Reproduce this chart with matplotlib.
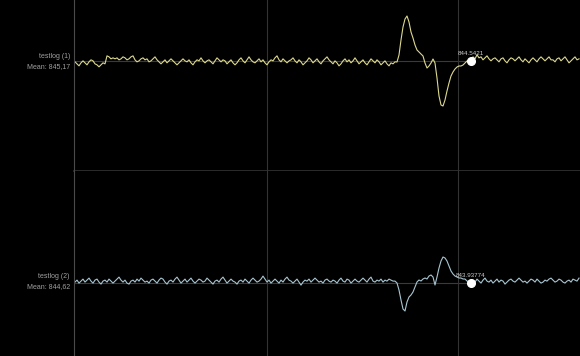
import numpy as np
import matplotlib.pyplot as plt

# readings, one every 2 px of the original trace
log1 = [844.4, 844.0, 843.6, 844.2, 844.6, 844.2, 843.8, 844.4, 844.8, 844.6,
        844.0, 843.8, 843.4, 843.8, 844.2, 844.0, 845.6, 845.4, 845.0, 845.2,
        845.0, 845.2, 844.8, 845.0, 845.4, 845.2, 844.8, 845.0, 845.4, 845.6,
        844.8, 844.4, 844.6, 845.0, 845.2, 844.8, 845.0, 844.4, 844.6, 845.0,
        845.4, 844.8, 844.4, 844.0, 844.4, 844.8, 844.2, 844.6, 845.0, 844.6,
        844.2, 843.8, 844.2, 844.6, 845.0, 844.6, 844.4, 844.8, 844.2, 843.8,
        844.4, 844.8, 844.6, 845.2, 844.6, 844.2, 844.6, 844.8, 844.4, 844.0,
        844.6, 845.2, 844.8, 844.4, 844.8, 844.6, 844.0, 844.4, 844.8, 844.2,
        843.8, 844.2, 844.8, 845.2, 844.6, 844.2, 844.8, 845.4, 844.8, 844.4,
        844.2, 844.6, 845.0, 844.4, 844.8, 844.2, 843.8, 844.4, 844.8, 844.6,
        845.2, 845.6, 844.8, 844.4, 845.0, 844.6, 844.2, 844.6, 844.8, 845.2,
        844.6, 844.2, 844.8, 844.4, 843.8, 844.2, 844.6, 845.2, 844.8, 844.2,
        844.6, 845.0, 844.4, 844.0, 844.6, 845.0, 845.4, 844.8, 844.4, 844.0,
        844.6, 844.2, 843.6, 844.0, 844.6, 845.0, 844.4, 844.8, 844.2, 844.6,
        845.2, 844.6, 844.0, 844.4, 844.8, 844.2, 843.8, 844.4, 845.0, 844.6,
        844.2, 844.8, 844.4, 843.8, 844.2, 844.6, 844.0, 843.6, 844.2, 844.0,
        844.4,
        # event
        844.37, 845.77, 848.77, 851.37, 852.97, 853.57, 852.37, 850.37, 849.17, 847.77,
        846.77, 846.37, 845.97, 845.57, 844.17, 843.17, 843.57, 844.17, 844.97, 844.17,
        841.17, 837.57, 835.77, 835.57, 836.77, 838.57, 840.17, 841.57, 842.37, 842.97,
        843.37, 843.57, 843.57, 843.77, 844.17, 844.57, 844.77, 844.5421,
        # after
        845.4, 845.0, 845.8, 845.2, 845.4, 844.8, 845.2, 845.6, 845.0, 844.6,
        845.0, 845.2, 844.8, 844.4, 845.0, 845.2, 844.6, 844.2, 844.8, 845.2,
        845.0, 844.6, 845.0, 845.4, 844.8, 844.4, 845.0, 844.6, 844.2, 844.8,
        845.2, 844.8, 844.4, 845.0, 845.4, 845.0, 844.6, 845.0, 845.4, 844.8,
        844.8, 844.4, 845.0, 845.2, 844.6, 845.0, 845.4, 844.8, 844.2, 844.6,
        845.0, 845.4, 844.8, 845.0]

log2 = [844.2, 844.6, 844.0, 844.4, 844.8, 844.2, 844.6, 845.0, 844.4, 844.0,
        844.6, 844.8, 844.2, 843.8, 844.4, 844.6, 844.2, 844.8, 844.4, 844.0,
        844.4, 844.8, 845.2, 844.6, 844.2, 844.6, 844.0, 843.8, 844.4, 844.6,
        844.2, 844.8, 844.4, 845.0, 844.6, 844.2, 844.4, 844.0, 844.6, 844.8,
        844.4, 844.0, 844.6, 845.0, 844.8, 844.2, 843.8, 844.4, 844.6, 844.2,
        844.8, 845.2, 844.6, 844.0, 844.4, 844.8, 844.2, 844.6, 845.0, 844.4,
        844.0, 844.4, 844.8, 844.6, 844.2, 844.4, 845.0, 844.6, 844.2, 843.8,
        844.4, 844.6, 844.2, 844.8, 845.2, 844.6, 844.0, 844.4, 844.8, 844.4,
        844.2, 843.8, 844.4, 844.6, 844.2, 844.8, 844.4, 844.0, 844.6, 845.0,
        844.6, 844.2, 844.4, 844.8, 845.4, 844.8, 844.2, 844.6, 844.0, 844.4,
        844.8, 844.4, 844.0, 844.6, 844.2, 844.8, 845.2, 844.6, 844.4, 844.0,
        844.4, 844.8, 844.2, 843.6, 844.2, 844.6, 844.4, 844.8, 844.2, 844.6,
        845.0, 844.6, 844.2, 844.4, 844.0, 844.6, 844.8, 844.4, 844.2, 844.6,
        844.4, 844.0, 844.6, 845.0, 844.4, 844.2, 844.8, 844.6, 844.0, 844.4,
        844.8, 844.4, 844.2, 844.6, 845.0, 844.6, 844.2, 844.8, 845.2, 844.4,
        844.2, 844.6, 844.4, 844.8, 844.2, 844.6, 844.4, 844.8, 844.6, 844.4,
        844.4,
        # event
        844.02, 842.62, 840.62, 838.82, 838.42, 840.22, 841.22, 841.62, 842.22, 843.22,
        844.22, 844.62, 844.42, 844.82, 845.02, 844.82, 845.42, 845.62, 845.22, 843.62,
        845.22, 847.02, 848.42, 849.22, 849.02, 848.42, 847.42, 846.42, 845.82, 845.42,
        845.22, 845.02, 845.02, 844.82, 844.82, 844.42, 844.22, 843.93774,
        # after
        844.6, 844.2, 844.8, 844.4, 844.0, 844.6, 845.0, 844.4, 844.2, 844.6,
        844.0, 844.4, 844.8, 844.2, 844.6, 844.4, 843.8, 844.2, 844.6, 844.8,
        844.4, 844.2, 844.6, 845.0, 844.6, 844.2, 844.4, 844.0, 844.4, 844.8,
        844.6, 844.2, 844.8, 844.4, 844.0, 844.2, 844.6, 844.4, 844.8, 845.0,
        844.6, 844.2, 844.4, 844.8, 844.6, 844.2, 844.0, 844.4, 844.6, 844.2,
        844.8, 844.6, 844.4, 845.0]

names = ["testlog (1)", "testlog (2)"]
means = ["845,17", "844,62"]
cursor = 198  # sample under the cursor
grid_x = [96, 191.5]

plt.rcParams['font.family'] = ['Liberation Sans', 'DejaVu Sans']

fig = plt.figure(figsize=(5.8, 3.56), dpi=100, facecolor="black")
ax0 = fig.add_axes([74/580, 1 - 171/356, 506/580, 171/356])
ax1 = fig.add_axes([74/580, 0, 506/580, 1 - 171/356])

colors = ["#dcd890", "#a9c6d2"]
ylims = [(822.57, 856.77), (829.42, 866.42)]
label_y = [(0.841, 0.813), (0.223, 0.195)]

for k, (ax, data) in enumerate([(ax0, log1), (ax1, log2)]):
    x = np.arange(len(data))
    ax.set_facecolor("black")
    ax.set_xlim(-0.5, 252.5)
    ax.set_ylim(*ylims[k])
    ax.set_xticks(grid_x)
    ax.set_yticks([])
    ax.grid(axis="x", color="#333333", lw=0.8)
    ax.tick_params(bottom=False, labelbottom=False)
    for s in ["top", "right", "bottom"]:
        ax.spines[s].set_visible(False)
    ax.spines["left"].set_color("#4a4a4a")
    ax.spines["left"].set_linewidth(0.8)

    ax.hlines(data[cursor], -0.5, cursor, color="#3a3a3a", lw=0.8, zorder=1)
    ax.plot(x, data, color=colors[k], lw=0.8, zorder=2)
    ax.plot(cursor, data[cursor], "o", color="white", ms=5.5, zorder=3)
    ax.annotate(str(data[cursor]), xy=(cursor, data[cursor]), xytext=(0, 5.5),
                textcoords="offset points", ha="center", va="center",
                fontsize=4.5, color="#cccccc", zorder=4)

    fig.text(70/580, label_y[k][0], names[k], ha="right", va="center",
             fontsize=5, color="#a0a0a0")
    fig.text(70/580, label_y[k][1], "Mean: " + means[k], ha="right", va="center",
             fontsize=5, color="#a0a0a0")

# divider between the two panels
ax0.axhline(ylims[0][0], color="#333333", lw=1.2, clip_on=False)

fig.savefig("out.png", facecolor="black")
